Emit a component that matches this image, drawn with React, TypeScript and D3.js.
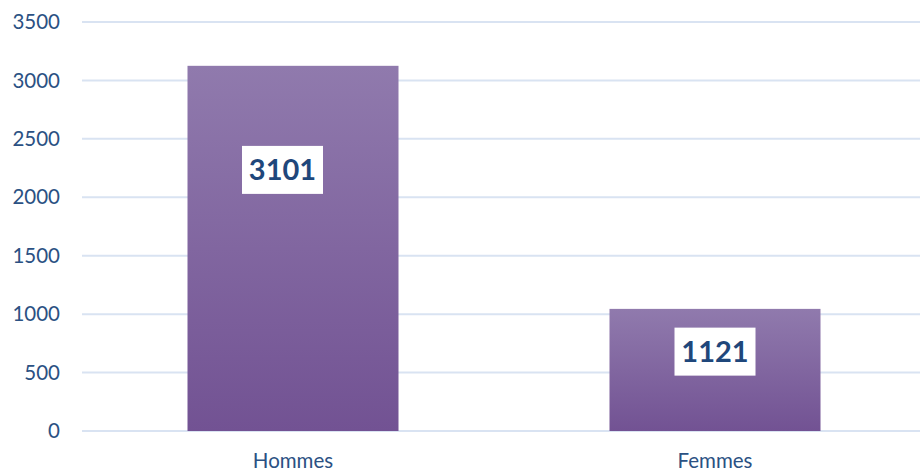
import React from 'react';
import {scaleLinear, scaleBand} from 'd3';

// data
const categories = ['Hommes', 'Femmes'];
const barValues = [3125, 1045];
const labelTexts = ['3101', '1121'];
const yTicks = [0, 500, 1000, 1500, 2000, 2500, 3000, 3500];

const W = 920;
const H = 472;
const margin = {left: 82, right: 0, top: 22, bottom: 41};
// vertical offset of the data label box from bar top, fraction of bar height
const labelPos = [0.285, 0.35];
const labelDx = [-10.5, 0];

const App = () => {
    let x = scaleBand().domain(categories).range([margin.left, 926]).paddingInner(0.5).paddingOuter(0.25);
    let y = scaleLinear().domain([0, 3500]).range([H - margin.bottom, margin.top]);
    let font = 'Lato, "Open Sans", sans-serif';

    return (
        <svg width={W} height={H} style={{position: 'absolute', left: 0, top: 0, background: '#fff'}}>
            <defs>
                <linearGradient id="barGrad" x1="0" y1="0" x2="0" y2="1">
                    <stop offset="0%" stopColor="#907aad"/>
                    <stop offset="100%" stopColor="#725293"/>
                </linearGradient>
            </defs>
            <g className="grid">
                {yTicks.map(t => <line key={t} x1={margin.left} x2={W} y1={y(t)} y2={y(t)}
                                       stroke="#d9e3f2" strokeWidth="2"/>)}
            </g>
            <g className="y-axis" fontFamily={font} fontSize="20.5" fill="#2b5183">
                {yTicks.map(t => <text key={t} x={60} y={y(t)} dy="0.35em" textAnchor="end">{t}</text>)}
            </g>
            {categories.map((c, i) => {
                let top = y(barValues[i]);
                let bottom = y(0);
                let cx = x(c) + x.bandwidth() / 2;
                let ly = top + (bottom - top) * labelPos[i];
                return <g key={c}>
                    <rect x={x(c)} y={top} width={x.bandwidth()} height={bottom - top} fill="url(#barGrad)"/>
                    <rect x={cx + labelDx[i] - 40.5} y={ly - 24} width={81} height={48} fill="#fff"/>
                    <text x={cx + labelDx[i]} y={ly} dy="0.36em" textAnchor="middle" fontFamily={font}
                          fontWeight="bold" fontSize="29" fill="#1f477b">{labelTexts[i]}</text>
                    <text x={cx} y={461} dy="0.35em" textAnchor="middle" fontFamily={font}
                          fontSize="20.5" fill="#2b5183">{c}</text>
                </g>;
            })}
        </svg>
    );
};

export default App;
